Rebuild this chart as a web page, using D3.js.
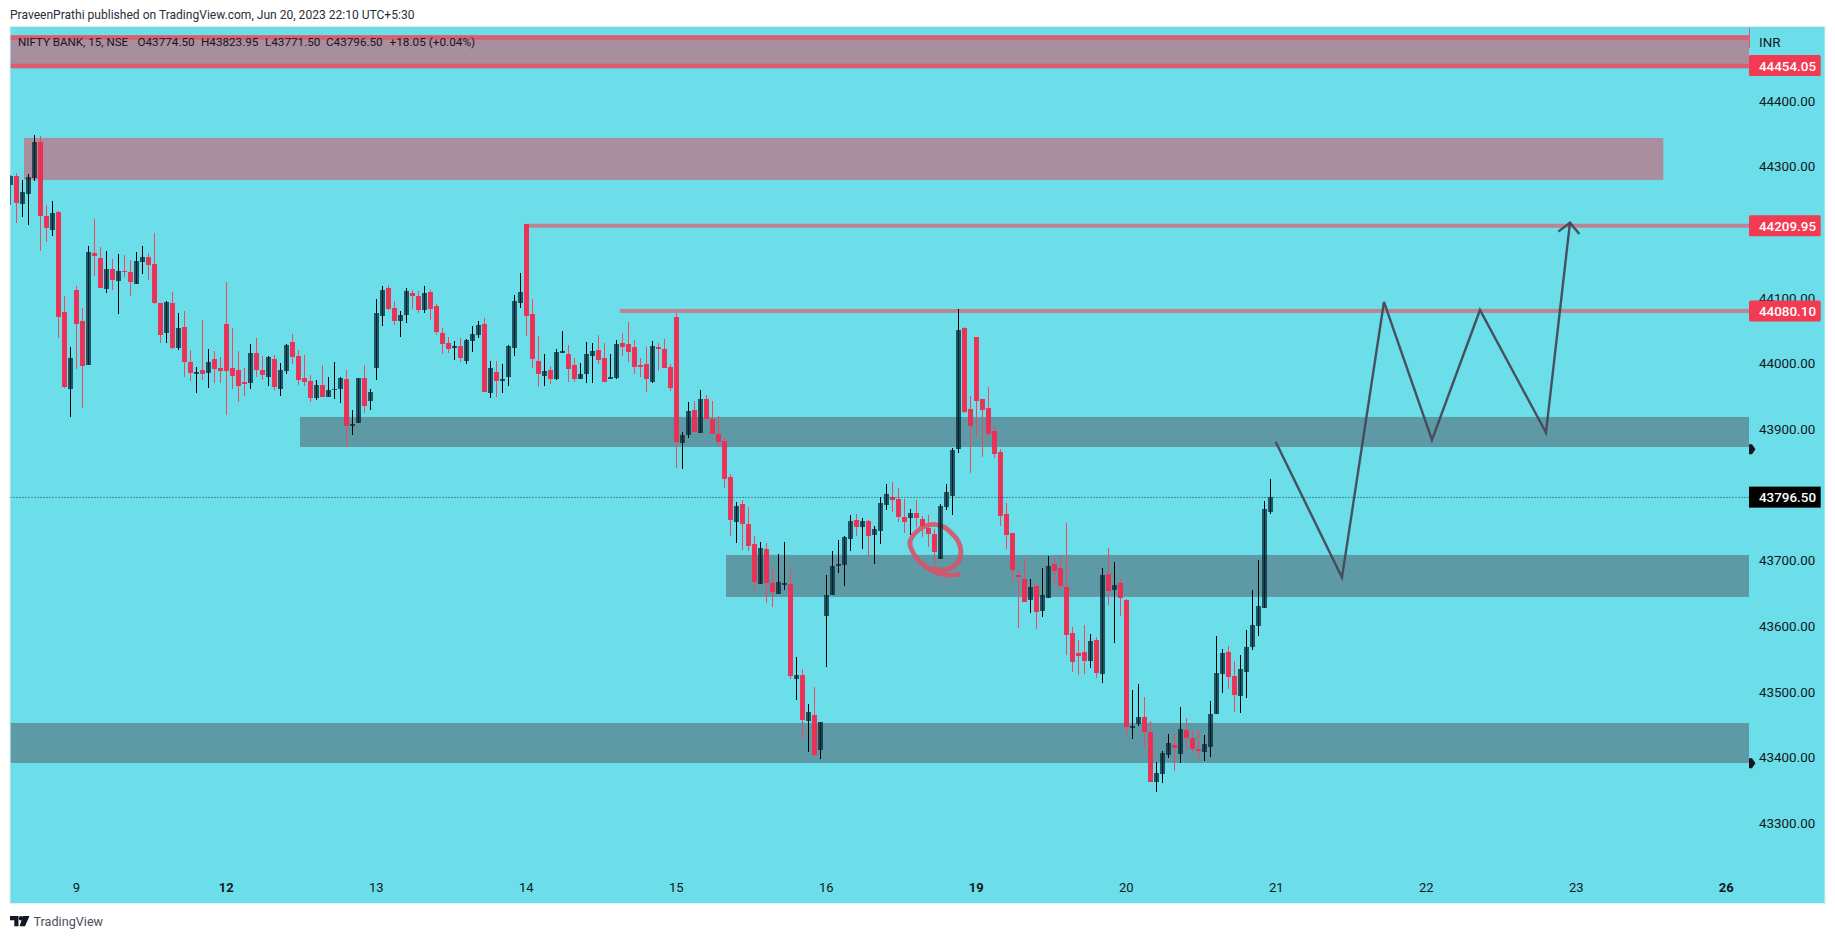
<!DOCTYPE html>
<html><head><meta charset="utf-8">
<script src="https://cdn.jsdelivr.net/npm/d3@7"></script>
<style>
html,body{margin:0;padding:0;background:#fff;overflow:hidden}
svg{display:block}
text{font-family:Roboto,"Open Sans",sans-serif}
</style></head><body>
<svg id="c" width="1835" height="939"></svg>
<script>
const opens=[44272.6,44285.8,44243.6,44258.9,44283.3,44337.6,44224.9,44204,44230.9,44078.6,
43961.8,44112.1,44064.9,43998.4,44168.5,44160.9,44114.2,44144.1,44126.3,44141.1,
44139.5,44121.8,44155.3,44162.4,44151.7,44092.3,44047.1,44092.3,44024.3,44055.8,
44002.4,43984.7,43990.2,43986.2,44007,43993.3,44060.3,43993.3,43990.2,43972,
43971,44016.2,43990.2,43980.1,44007,43961.8,43989.2,44032.9,44011.6,43978.1,
43973.5,43948.1,43967.4,43949.6,43959.8,43961.8,43976.5,43905.4,43910,43978,
43943.5,43993.7,44073,44115.1,44084.6,44065.3,44074.5,44107.5,44102.9,44082.1,
44109,44087.7,44046.6,44031.3,44024.2,44026.8,44004.4,44034.9,44044,44060.3,
43955.7,43987.1,43973.9,43980,44024.2,44092.8,44212,44075.5,44003.9,43981.6,
43990.2,43977,44016.6,44014.6,43997.8,43977,43984.6,44012,44020.7,44008.5,
43977,43978.5,44031.3,44029.8,44025.2,43997.8,43999.3,43972.4,44025.2,44022.2,
43994.8,44070.9,43879.5,43891.7,43929.3,43894.7,43946,43915.5,43892.7,43882,
43827.2,43759.1,43786,43755.6,43725.1,43664.7,43717.5,43665.7,43649.5,43663.2,
43664.2,43520,43525.5,43456,43464.6,43411.8,43616,43648,43692.1,43693.7,
43733.2,43761.7,43751.5,43760.2,43739.4,43745.5,43785,43796.7,43793.7,43766.3,
43765.3,43772.4,43763.2,43749.5,43740.4,43702.8,43782,43798.8,43870.4,44054.2,
43930.8,44040.5,43946,43932.3,43897.3,43865.3,43770.8,43741.9,43677.9,43671.8,
43640.3,43661.2,43623.6,43643.4,43694.7,43688.6,43659.6,43589.5,43559.5,43560.6,
43547.4,43578.9,43527.6,43679.4,43655.6,43665.7,43639.8,43445.3,43450.9,43461.6,
43438.7,43363.1,43375.3,43404.2,43418.9,43405.7,43441.8,43429.6,43412.8,43408.8,
43416.4,43466.7,43527.6,43560.6,43524,43494.1,43530.6,43568.7,43600.7,43628.1,
43774.5];
const highs=[44287.3,44290.4,44279.7,44288.8,44348.2,44346.7,44241.6,44247.7,44232.5,44103,
44025.3,44118.2,44084.7,44179.1,44220.3,44177.6,44171.5,44159.3,44167,44165.4,
44157.8,44170,44179.1,44168.5,44199,44092.3,44095.4,44109.1,44077.1,44080.1,
44020.7,43994.8,44066.4,44022.2,44019.2,44010.1,44124.3,44054.2,44019.2,43993.3,
44029.9,44039,44011.6,44011.6,44013.1,44000.9,44029.9,44045.1,44020.7,44013.1,
43982.6,43975,43997.9,43979.6,44002.4,43979.6,43990.2,43929.3,43978,43997.8,
43961.2,44098.4,44118.2,44119.7,44095.3,44080.1,44115.1,44112,44110.5,44118.2,
44112,44090.7,44054.2,44040.5,44034.4,44038.9,44037.4,44057.2,44064.8,44069.4,
44003.9,44003.9,43999.3,44028.3,44104.4,44138,44213,44098.4,44042,44014.6,
43996.3,44022.2,44049.6,44028.3,44008.5,44000.9,44032.8,44031.3,44043.5,44031.3,
44014.6,44035.9,44046.6,44063.3,44035.9,44008.5,44025.2,44034.4,44031.3,44037.4,
43999.3,44077,43895.7,43941.4,43943,43959.7,43952.1,43943,43920.1,43888.1,
43831.7,43789.1,43792.1,43781.5,43737.3,43728.2,43726.6,43687,43710,43728.2,
43687,43553,43534.7,43481.4,43507.3,43454,43677.9,43714.5,43731.2,43737.3,
43769.3,43770.8,43764.7,43761.7,43752.6,43796.7,43816.5,43819.6,43810.5,43793.7,
43778.4,43792.1,43767.8,43769.3,43748,43786,43816.5,43871.4,44083.1,44055.7,
43950.6,44040.5,43946,43964.3,43904.9,43869.8,43787.6,43741.9,43685.5,43703.8,
43671.8,43665.7,43688.6,43706.9,43706.9,43708.4,43757.1,43598.7,43578.9,43601.7,
43588,43583.5,43688.6,43719,43697.7,43673.3,43641.3,43502.7,43511.9,43492.1,
43455.5,43393.1,43409.8,43435.7,43435.7,43476.8,43460.1,43440.3,43441.8,43434.2,
43486,43585,43565.2,43569.7,43546.9,43556,43594.1,43655.1,43700.8,43790.6,
43823.95];
const lows=[44242.1,44214.7,44223.3,44211.6,44278.2,44172,44185.8,44194.9,44039.5,43963.3,
43919.2,43992.3,43932.9,43998.4,44134,44115.7,44108.1,44112.6,44076.1,44132.4,
44103.5,44121.8,44137,44127.9,44091.3,44031.9,44031.9,44022.7,44021.2,43980.1,
43974,43955.7,43975.5,43963.3,43971,43971,43922.2,43961.8,43942,43951.1,
43961.8,43980.1,43975.5,43966.4,43960.3,43951.1,43984.7,43999.9,43967.9,43966.4,
43942,43945.1,43949.6,43949.6,43946.6,43940.5,43873,43891.7,43910,43925.2,
43929.8,43975.5,44057.7,44082.1,44059.3,44041,44062.3,44083.6,44077.5,44077.5,
44066.9,44044,44015.1,44016.6,44005.9,44002.9,43999.8,44018.1,44039.4,43957.2,
43948,43949.6,43955.7,43966.3,44012,44085.1,44042.5,43993.7,43964.8,43966.3,
43969.4,43975.5,44016.6,43972.4,43972.4,43977,43970.9,43970.9,43999.8,43972.4,
43977,43977,44012,44002.9,43984.6,43980,43957.2,43970.9,43989.2,43993.7,
43958.7,43841.4,43839.9,43887.1,43893.7,43894.7,43913,43893.2,43873.4,43810.9,
43737.8,43727.1,43716.5,43715,43657.1,43664.7,43635.7,43629.6,43649.5,43655.6,
43520,43488,43428.6,43408.8,43401.2,43398.1,43538.3,43648,43681.5,43661.7,
43715,43737.8,43718,43705.8,43695.2,43725.6,43777.4,43774.4,43759.1,43742.4,
43739.4,43751.5,43736.3,43721.1,43688.1,43702.8,43777.4,43769.8,43864.3,43925.2,
43833.8,43890.2,43858.2,43890.2,43856.7,43753.1,43718,43667.7,43597.7,43637.3,
43620.5,43596.2,43614.4,43643.4,43664.7,43655.6,43556,43530,43525.5,43527.6,
43536.7,43521.5,43513.9,43632.7,43574.8,43616,43434.7,43428.6,43448.4,43414.9,
43363.1,43347.8,43361.5,43399.6,43379.8,43392,43411.8,43407.2,43398.1,43395.1,
43401.2,43466.7,43498.7,43504.7,43469.7,43468.2,43491,43564.2,43585.5,43628.1,
43771.5];
const closes=[44285.8,44245.2,44261.4,44284.3,44337.6,44225.4,44207.1,44229.4,44071.5,43964.9,
44008.5,44060.8,43996.9,44170,44163.9,44115.7,44144.1,44127.9,44141.1,44139.5,
44124.8,44156.3,44162.4,44150.7,44092.8,44044.1,44093.8,44024.3,44054.2,44002.9,
43986.2,43987.2,43984.7,44002.4,43992.3,43989.2,43989.2,43981.6,43966.4,43969.4,
44016.2,43990.8,43983.1,44010.1,43964.9,43990.2,44028.3,44010.6,43975.5,43972.5,
43948.1,43967.4,43949.6,43959.8,43961.3,43978.1,43905.4,43907.9,43978,43935.9,
43956.7,44077,44112.1,44083.6,44065.3,44074,44110.5,44102.9,44082.1,44107.5,
44083.6,44048.6,44030.3,44022.7,44026.8,44009,44035.9,44045,44058.7,43957.2,
43993.2,43973.9,43976.5,44026.8,44095.3,44109,44073,44007.5,43984.6,43988.7,
43977,44017.6,44019.1,43992.2,43977,43984.1,44014.6,44019.1,44005.9,43972.4,
43979.5,44029.8,44025.7,44018.1,43995.3,43995.3,43977,44026.8,44022.7,43993.7,
43963.3,43881,43891.2,43927.7,43896.2,43946,43916.1,43893.2,43881,43824.6,
43762.2,43783,43756.1,43722.6,43667.7,43719,43666.2,43652.5,43667.2,43665.7,
43524.5,43525.5,43457.5,43469.2,43404.2,43454,43647.4,43691.6,43694.7,43735.8,
43760.2,43751.5,43760.2,43737.8,43748,43787.6,43801.3,43792.7,43766.8,43759.1,
43772.4,43765.3,43753.1,43740.9,43713.5,43783,43804.3,43868.3,44051.2,43926.7,
43905.4,43943.5,43929.8,43893.2,43862.8,43768.3,43739.4,43685,43675.4,43637.3,
43659.6,43622,43647.4,43691.6,43684.5,43661.7,43587,43545.3,43554.5,43547.4,
43577.4,43529.1,43677.9,43654,43662.7,43643.4,43446.9,43447.9,43461.6,43439.2,
43363.1,43376.3,43406.7,43422,43414.9,43443.3,43430.1,43413.3,43410.3,43420.5,
43466.2,43528.6,43559.1,43523,43495.6,43534.7,43568.2,43601.7,43630.7,43778.5,
43796.5];

const priceTicks=[44400,44300,44100,44000,43900,43700,43600,43500,43400,43300];
const dayLabels=["9","12","13","14","15","16","19","20","21","22","23","26"];
const dayBars=[11,36,61,86,111,136,161,186,211,236,261,286];
const boldDays=["12","19","26"];

const tealZones=[{bar:48.28,top:43918.6,bottom:43872.9},{bar:119.28,top:43708.4,bottom:43644.4},{bar:-1,top:43452.4,bottom:43391.5}];
const pinkZones=[{bar:2.28,end:275.5,top:44343.7,bottom:44279.7},{bar:-1,end:290.5,top:44496.8,bottom:44453.3}];
const levelLines=[{bar:86,price:44209.95},{bar:101.6,price:44080.10}];
const bandLines=[44496.8,44453.3];
const axisBadges=[44454.05,44209.95,44080.10];
const lastPrice=43796.50;
const markerPrices=[43869.5,43391];

const pathBars=[210.89,221.94,228.94,236.94,244.94,255.94,259.94];
const pathPrices=[43881,43673.9,44093.8,43883.6,44081.6,43894.8,44214.7];
const headBars=[258.0,259.94,261.5];
const headPrices=[44201,44214.7,44197.4];
const circleBars=[158.0,156.06,154.39,153.0,151.33,150.22,149.94,150.78,152.17,153.83,155.5,156.89,158.0,158.44,158.0,156.61,154.94,153.56];
const circlePrices=[43678.9,43677.9,43681.4,43688,43700.7,43716,43728.7,43741.4,43751.5,43755,43751.5,43741.4,43728.7,43713.4,43698.2,43688,43685.5,43687];

const legendItems=[["NIFTY BANK, 15, NSE",18,11.6],["O43774.50",137.5,11.7],["H43823.95",201,11.7],["L43771.50",265,11.7],["C43796.50",326,11.7],["+18.05 (+0.04%)",389.5,11.8]];

const BG="#6bdeea",INK="#131722",RED="#f23a52";
const x=d3.scaleLinear().domain([0,286]).range([10.33,1726.33]);
const y=d3.scaleLinear().domain([44400,43300]).range([101,823]);
const PL=10.5,PR=1749,PT=27,PB=903,AR=1824.5;
const svg=d3.select("#c");
const defs=svg.append("defs");
defs.append("clipPath").attr("id","pane").append("rect").attr("x",PL).attr("y",PT).attr("width",PR-PL).attr("height",PB-PT);

svg.append("text").attr("x",10).attr("y",19).attr("font-size",12.05).attr("fill","#2a2e39").text("PraveenPrathi published on TradingView.com, Jun 20, 2023 22:10 UTC+5:30");
svg.append("rect").attr("x",PL-.5).attr("y",PT-.5).attr("width",AR-PL+1).attr("height",PB-PT+1).attr("fill",BG).attr("stroke","#dfeef1");

const pane=svg.append("g").attr("clip-path","url(#pane)");
const xc=v=>Math.max(x(v),PL);
pane.selectAll("rect.pink").data(pinkZones).join("rect").attr("class","pink")
 .attr("x",d=>xc(d.bar)).attr("width",d=>Math.min(x(d.end),PR)-xc(d.bar))
 .attr("y",d=>y(d.top)).attr("height",d=>y(d.bottom)-y(d.top)).attr("fill","#a98e9d");
pane.selectAll("rect.teal").data(tealZones).join("rect").attr("class","teal")
 .attr("x",d=>xc(d.bar)).attr("width",d=>PR-xc(d.bar))
 .attr("y",d=>y(d.top)).attr("height",d=>y(d.bottom)-y(d.top)).attr("fill","#5e9aa6");
pane.selectAll("rect.band").data(bandLines).join("rect").attr("class","band")
 .attr("x",PL).attr("width",PR-PL).attr("y",d=>y(d)-2.3).attr("height",4.6).attr("fill","#da5e70");
pane.selectAll("rect.lvl").data(levelLines).join("rect").attr("class","lvl")
 .attr("x",d=>x(d.bar)).attr("width",d=>PR-x(d.bar)).attr("y",d=>y(d.price)-2).attr("height",4).attr("fill","#bc8492");

const circleData=circleBars.map((b,i)=>[x(b),y(circlePrices[i])]);
pane.append("path").attr("d",d3.line().curve(d3.curveCatmullRom)(circleData))
 .attr("fill","none").attr("stroke","#dc5065").attr("stroke-width",4.8).attr("stroke-opacity",.88).attr("stroke-linecap","round");

const idx=d3.range(closes.length);
const up=i=>closes[i]>=opens[i];
const candles=pane.append("g").attr("shape-rendering","crispEdges");
candles.selectAll("rect.w").data(idx).join("rect").attr("class","w")
 .attr("x",i=>Math.floor(x(i))).attr("width",1)
 .attr("y",i=>y(highs[i])).attr("height",i=>y(lows[i])-y(highs[i]))
 .attr("fill",i=>up(i)?"#000":"#f0485f");
candles.selectAll("rect.b").data(idx).join("rect").attr("class","b")
 .attr("x",i=>Math.floor(x(i))-2).attr("width",5)
 .attr("y",i=>y(Math.max(opens[i],closes[i])))
 .attr("height",i=>Math.max(1.5,Math.abs(y(opens[i])-y(closes[i]))))
 .attr("fill",i=>up(i)?"rgb(8,40,52)":"#f02c52")
 .attr("fill-opacity",i=>up(i)?.75:.94);

pane.append("line").attr("x1",PL).attr("x2",PR).attr("y1",y(lastPrice)+.3).attr("y2",y(lastPrice)+.3)
 .attr("stroke","#173c46").attr("stroke-width",1).attr("stroke-dasharray","1 2");

const pathData=pathBars.map((b,i)=>[x(b),y(pathPrices[i])]);
const headData=headBars.map((b,i)=>[x(b),y(headPrices[i])]);
[pathData,headData].forEach(pts=>pane.append("path").attr("d",d3.line()(pts)).attr("fill","none")
 .attr("stroke","#454857").attr("stroke-width",2.4).attr("stroke-opacity",.95));

svg.append("rect").attr("x",PR).attr("y",28).attr("width",1).attr("height",20).attr("fill","#dd5a6c");

const tx=1759,fs=13.4;
svg.append("text").attr("x",tx).attr("y",42).attr("dy","0.35em").attr("font-size",fs).attr("fill",INK).text("INR");
svg.selectAll("text.pt").data(priceTicks).join("text").attr("class","pt")
 .attr("x",tx).attr("y",p=>y(p)).attr("dy","0.36em").attr("font-size",fs).attr("fill",INK).text(p=>d3.format(".2f")(p));

svg.selectAll("rect.bg").data(axisBadges).join("rect").attr("class","bg")
 .attr("x",PR).attr("y",p=>y(p)-10.5).attr("width",71.7).attr("height",21).attr("rx",1.5).attr("fill",RED);
svg.selectAll("text.bt").data(axisBadges).join("text").attr("class","bt")
 .attr("x",tx).attr("y",p=>y(p)+.5).attr("dy","0.36em").attr("font-size",fs).attr("fill","#fff").attr("font-weight",500).text(p=>d3.format(".2f")(p));
svg.append("rect").attr("x",PR).attr("y",y(lastPrice)-10.5).attr("width",71.7).attr("height",21).attr("fill","#000");
svg.append("text").attr("x",tx).attr("y",y(lastPrice)+.5).attr("dy","0.36em").attr("font-size",fs).attr("fill","#fff").attr("font-weight",500).text(d3.format(".2f")(lastPrice));

svg.selectAll("path.mk").data(markerPrices).join("path").attr("class","mk")
 .attr("d",p=>{const v=y(p);return `M${PR},${v-5}H${PR+3}L${PR+6.5},${v}L${PR+3},${v+5}H${PR}Z`;}).attr("fill",INK);

svg.selectAll("text.leg").data(legendItems).join("text").attr("class","leg")
 .attr("x",d=>d[1]).attr("y",42).attr("dy","0.35em").attr("font-size",d=>d[2]).attr("fill",INK).text(d=>d[0]);

svg.selectAll("text.day").data(dayLabels).join("text").attr("class","day")
 .attr("x",(d,i)=>x(dayBars[i])).attr("y",887).attr("dy","0.35em").attr("text-anchor","middle").attr("font-size",13)
 .attr("font-weight",d=>boldDays.includes(d)?700:400).attr("fill",INK).text(d=>d);

svg.append("path").attr("d","M10,916H18.5V926.3H14.3V920.2H10ZM23,916H29.5L25,926.3H19.5Z").attr("fill","#131722");
svg.append("circle").attr("cx",21).attr("cy",918.2).attr("r",2.2).attr("fill","#131722");
svg.append("text").attr("x",33.5).attr("y",921.5).attr("dy","0.35em").attr("font-size",12.65).attr("fill","#4a4e5a").text("TradingView");
</script>
</body></html>
